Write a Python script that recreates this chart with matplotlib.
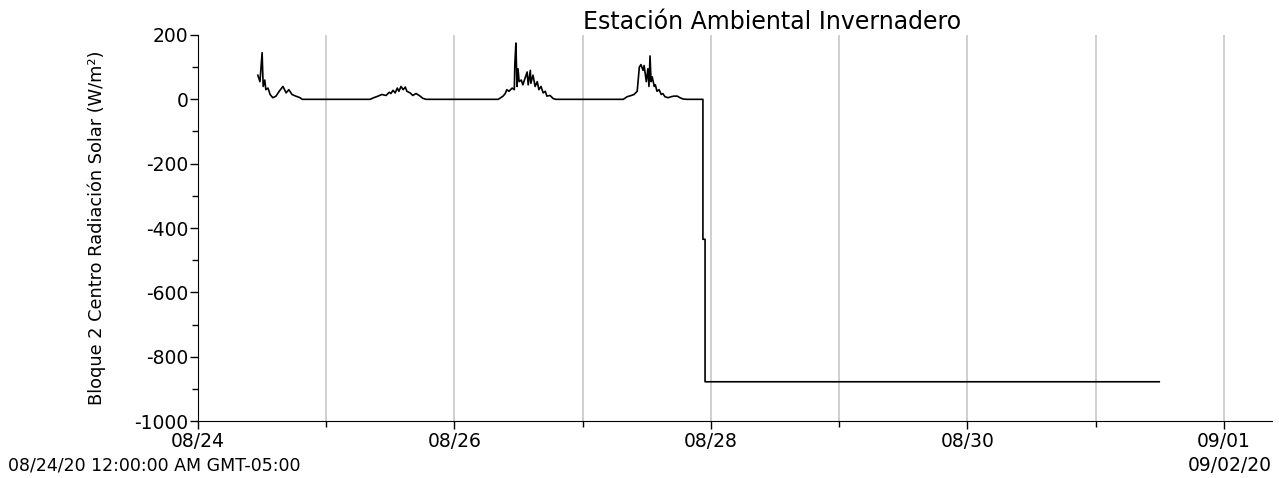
import matplotlib.pyplot as plt
import matplotlib.dates as mdates
import pandas as pd

plt.rcParams['font.family'] = ['DejaVu Sans']
plt.rcParams['axes.unicode_minus'] = False

# Hours since 08/24/20 00:00 and solar radiation (W/m2)
hours = [11.2, 11.6, 12.0, 12.2, 12.5, 12.7, 13.1, 13.5, 14.0, 14.6, 15.2, 15.9,
         16.5, 17.0, 17.6, 18.3, 19.1, 19.5,
         32.2, 32.9, 33.7, 34.4, 35.2, 35.8, 36.1, 36.5, 36.9, 37.3, 37.6, 38.0,
         38.4, 38.8, 39.1, 39.7, 40.2, 40.8, 41.4, 42.1, 42.7,
         56.2, 57.1, 57.5, 57.8, 58.2, 58.8, 59.2, 59.3, 59.5, 59.7, 59.9, 60.1,
         60.5, 60.8, 61.2, 61.6, 61.8, 62.2, 62.3, 62.7, 63.1, 63.5, 63.8, 64.2,
         64.6, 65.0, 65.3, 65.9, 66.5, 67.0,
         79.6, 80.3, 81.1, 81.6, 82.2, 82.6, 82.9, 83.3, 83.5, 83.9, 84.2, 84.4,
         84.6, 84.8, 85.0, 85.4, 85.6, 85.9, 86.3, 86.7, 87.0, 87.4, 88.0, 88.5,
         89.1, 89.7, 90.2, 90.8, 91.5,
         94.5, 94.5, 94.9, 94.9, 179.9]
radiation = [75, 55, 145, 40, 60, 30, 35, 15, 5, 10, 25, 40,
             20, 30, 15, 10, 5, 0,
             0, 5, 10, 15, 12, 22, 18, 28, 20, 35, 25, 40,
             30, 38, 25, 20, 12, 18, 12, 3, 0,
             0, 10, 18, 30, 25, 35, 30, 110, 175, 40, 95, 55,
             60, 45, 65, 85, 45, 90, 50, 75, 40, 55, 30, 40,
             20, 25, 10, 12, 2, 0,
             0, 8, 12, 15, 25, 100, 108, 90, 105, 55, 95, 40,
             135, 55, 70, 40, 45, 25, 30, 15, 18, 8, 5, 8,
             10, 10, 5, 1, 0,
             0, -435, -435, -878, -878]

start = pd.Timestamp('2020-08-24 00:00')
times = [start + pd.Timedelta(hours=h) for h in hours]

fig = plt.figure(figsize=(12.79, 4.78), dpi=100)
ax = fig.add_axes([0.1548, 0.1192, 0.8397, 0.8076])

ax.plot(times, radiation, color='black', linewidth=1.2)

ax.set_ylim(-1000, 200)
ax.set_yticks(range(-1000, 201, 200))
ax.set_yticks(range(-900, 200, 200), minor=True)
ax.set_xlim(start, start + pd.Timedelta(hours=201))

ax.xaxis.set_major_locator(mdates.DayLocator(bymonthday=[1, 24, 26, 28, 30]))
ax.xaxis.set_minor_locator(mdates.DayLocator())
ax.xaxis.set_major_formatter(mdates.DateFormatter('%m/%d'))
ax.grid(True, which='both', axis='x', color='#cccccc', linewidth=1.3)
ax.set_axisbelow(True)

for s in ['top', 'right']:
    ax.spines[s].set_visible(False)
ax.tick_params(axis='both', which='major', length=6, width=1, labelsize=13.5)
ax.tick_params(axis='both', which='minor', length=4, width=1)
ax.tick_params(axis='x', pad=2)
ax.tick_params(axis='y', pad=1)

ax.set_ylabel('Bloque 2 Centro Radiación Solar (W/m²)', fontsize=12.8, labelpad=20)
fig.text(0.604, 0.955, 'Estación Ambiental Invernadero', ha='center', va='center', fontsize=17)
fig.text(0.006, 0.027, '08/24/20 12:00:00 AM GMT-05:00', ha='left', va='center', fontsize=12.5)
fig.text(0.994, 0.027, '09/02/20', ha='right', va='center', fontsize=13.5)

fig.savefig('out.png', dpi=100)
